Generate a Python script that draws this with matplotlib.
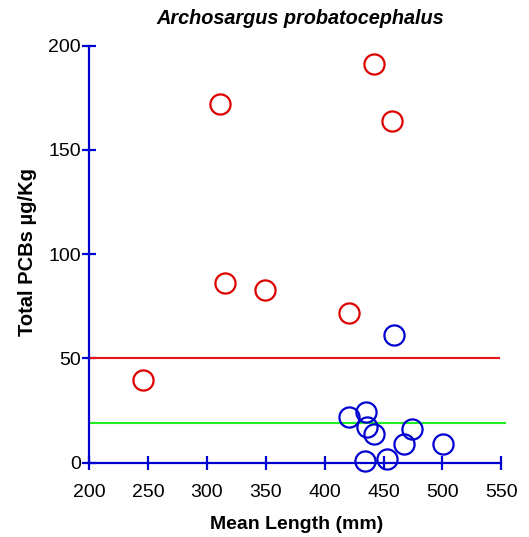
import matplotlib
matplotlib.use("Agg")
import matplotlib.pyplot as plt

plt.rcParams['font.family'] = ['Liberation Sans', 'DejaVu Sans']

# red circles
red_x = [246, 311, 442, 457, 315, 349, 421]
red_y = [39.7, 172, 191.2, 163.7, 86.2, 82.8, 71.9]

# blue circles
blue_x = [458.7, 421, 435.5, 436.3, 442, 474, 467, 500.3, 434, 452.5]
blue_y = [61.2, 22.1, 24.5, 17.3, 13.6, 16, 9, 9, 0.8, 1.8]

red_level = 50
red_span = [200, 548]
green_level = 19.0
green_span = [200, 553]

xticks = [200, 250, 300, 350, 400, 450, 500, 550]
yticks = [0, 50, 100, 150, 200]

blue = '#0000D0'

fig = plt.figure(figsize=(5.29, 5.37), dpi=100)
ax = fig.add_axes([89 / 529, 1 - 462.7 / 537, 412.4 / 529, 417 / 537])

ax.plot(red_span, [red_level, red_level], color='#EE1111', lw=1.5, clip_on=False)
ax.plot(green_span, [green_level, green_level], color='#22EE22', lw=1.5, clip_on=False)

ax.plot(red_x, red_y, 'o', ms=14.5, mfc='none', mec='#DD0000', mew=1.6, clip_on=False)
ax.plot(blue_x, blue_y, 'o', ms=14.5, mfc='none', mec=blue, mew=1.6, clip_on=False)

ax.set_xlim(200, 550)
ax.set_ylim(0, 200)
ax.set_xticks(xticks)
ax.set_yticks(yticks)

for s in ['top', 'right']:
    ax.spines[s].set_visible(False)
for s in ['left', 'bottom']:
    ax.spines[s].set_color(blue)
    ax.spines[s].set_linewidth(1.6)

ax.tick_params(axis='both', direction='inout', length=10, width=1.6, color=blue,
               labelsize=14, labelcolor='black')
ax.tick_params(axis='x', pad=10)
ax.tick_params(axis='y', pad=1)

ax.set_xlabel('Mean Length (mm)', fontsize=14, fontweight='bold')
ax.set_ylabel('Total PCBs µg/Kg', fontsize=14.5, fontweight='bold')
ax.xaxis.set_label_coords(0.503, -0.128)
ax.yaxis.set_label_coords(-0.126, 0.506)
fig.text(300.5 / 529, 1 - 19 / 537, 'Archosargus probatocephalus', fontsize=14.3,
         fontweight='bold', fontstyle='italic', ha='center', va='center')

fig.savefig('out.png', dpi=100)
